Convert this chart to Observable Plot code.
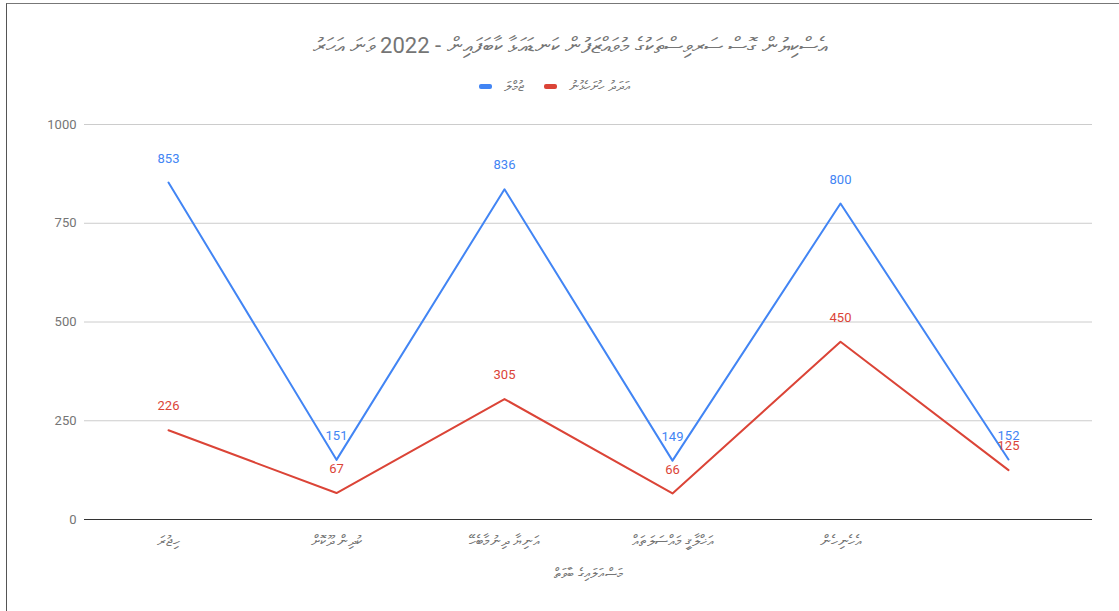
<!DOCTYPE html>
<html>
<head>
<meta charset="utf-8">
<script src="https://cdn.jsdelivr.net/npm/d3@7"></script>
<script src="https://cdn.jsdelivr.net/npm/@observablehq/plot@0.6"></script>
<style>
  html, body { margin: 0; padding: 0; background: #fff; }
  body { width: 1119px; height: 611px; position: relative; overflow: hidden; font-family: Roboto, "DejaVu Sans", sans-serif; }
  #frame { position: absolute; left: 6px; top: 3px; width: 1113px; height: 608px; border-left: 1.5px solid #555; border-top: 1.5px solid #777; box-sizing: border-box; }
  #title { position: absolute; top: 33px; left: 0; width: 1140px; text-align: center; font-size: 22px; color: #757575; }
  #legend { position: absolute; top: 78px; left: 0; width: 1130px; display: flex; justify-content: center; align-items: center; font-size: 14px; color: #777; direction: ltr; }
  .sw { display: inline-block; width: 13px; height: 5px; border-radius: 2px; margin-right: 12px; }
  .lt { margin-right: 20px; }
  #chart { position: absolute; left: 0; top: 110px; }
</style>
</head>
<body>
<div id="frame"></div>
<div id="title"></div>
<div id="legend"></div>
<div id="chart"></div>
<script>
const titleText = "އެސްކިޔުން ގޮސް ސަރވިސްތަކުގެ މުވައްޒަފުން ކަނޑައަޅާ ކާބަފައިން - 2022 ވަނަ އަހަރު";
const seriesNames = ["ޖުމްލަ", "އަދަދު ހުށަހެޅުނު"];
const seriesColors = ["#4285F4", "#DB4437"];
const categories = ["ހިޖުރަ", "ކުދިން ދޫކޮށް", "އަނިޔާ ދިނުމާބެހޭ", "އަޚްލާޤީ މައްސަލަތައް", "އެހެނިހެން", ""];
const totalValues = [853, 151, 836, 149, 800, 152];
const otherValues = [226, 67, 305, 66, 450, 125];
const yTicks = [0, 250, 500, 750, 1000];
const xTitle = "މަސްއަލައިގެ ބާވަތް";

document.getElementById("title").textContent = titleText;
const legend = document.getElementById("legend");
seriesNames.forEach((n, i) => {
  const s = document.createElement("span"); s.className = "sw"; s.style.background = seriesColors[i];
  const t = document.createElement("span"); t.className = "lt"; t.textContent = n;
  legend.appendChild(s); legend.appendChild(t);
});

const rows = [];
categories.forEach((c, i) => {
  rows.push({i, v: totalValues[i], s: seriesNames[0]});
  rows.push({i, v: otherValues[i], s: seriesNames[1]});
});

const chart = Plot.plot({
  width: 1119,
  height: 500,
  marginLeft: 84,
  marginRight: 27,
  marginTop: 14,
  marginBottom: 91,
  style: { fontFamily: "Roboto, 'DejaVu Sans', sans-serif", fontSize: "13px", background: "transparent" },
  x: { type: "point", domain: d3.range(categories.length), padding: 0.5 },
  y: { domain: [0, 1000] },
  color: { domain: seriesNames, range: seriesColors },
  marks: [
    Plot.gridY(yTicks, { stroke: "#ccc", strokeOpacity: 1 }),
    Plot.axisY(yTicks, { tickSize: 0, tickPadding: 8, label: null, tickFormat: d => String(d), fill: "#757575", fontSize: 13 }),
    Plot.axisX({ tickSize: 0, tickPadding: 16, tickFormat: i => categories[i], label: null, fill: "#757575", fontSize: 15 }),
    Plot.ruleY([0], { stroke: "#333", strokeWidth: 1 }),
    Plot.line(rows, { x: "i", y: "v", z: "s", stroke: "s", strokeWidth: 2 }),
    Plot.text(rows, { x: "i", y: "v", text: d => String(d.v), fill: "s", dy: -24, fontSize: 13 }),
    Plot.text([xTitle], { frameAnchor: "bottom", dy: 58, fill: "#757575", fontSize: 14 })
  ]
});
document.getElementById("chart").appendChild(chart);
</script>
</body>
</html>
